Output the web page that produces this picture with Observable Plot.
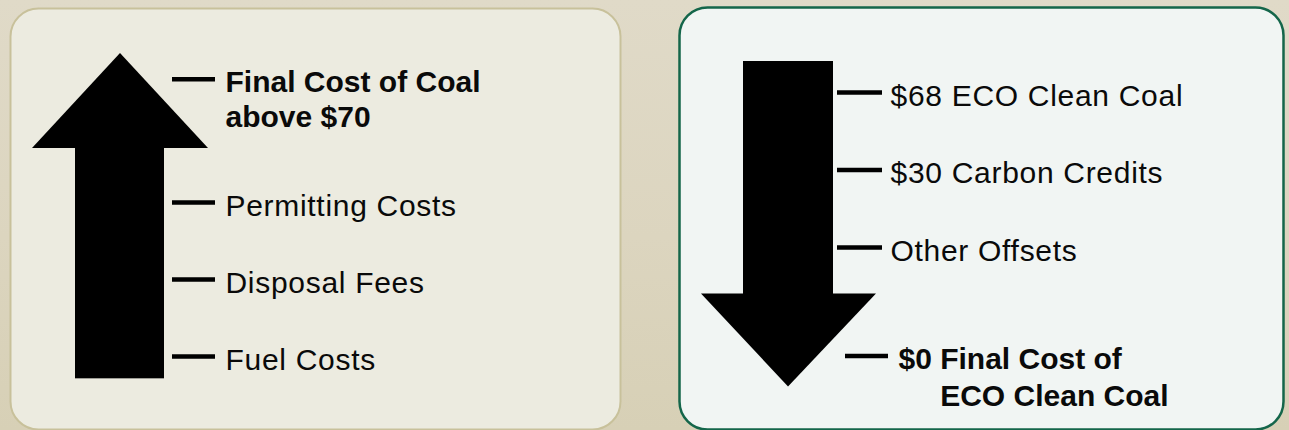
<!DOCTYPE html>
<html><head><meta charset="utf-8">
<script src="https://cdn.jsdelivr.net/npm/d3@7"></script>
<script src="https://cdn.jsdelivr.net/npm/@observablehq/plot@0.6"></script>
<style>
html,body{margin:0;padding:0;}
body{width:1289px;height:430px;overflow:hidden;background:linear-gradient(to bottom,#e0dac8 0%,#dcd5bf 55%,#d7d0b6 100%);}
#wrap{display:flex;}
#wrap svg{display:block;}
</style></head><body><div id="wrap"></div>
<script>
// Left panel: conventional coal cost build-up (bottom to top)
const leftLabels = ["Fuel Costs", "Disposal Fees", "Permitting Costs", "Final Cost of Coal\nabove $70"];
const leftLevels = [0, 1, 2, 3.6];
// Right panel: ECO Clean Coal cost offsets (top to bottom)
const rightLabels = ["$68 ECO Clean Coal", "$30 Carbon Credits", "Other Offsets", "$0 Final Cost of\n\u00a0\u00a0\u00a0\u00a0\u00a0ECO Clean Coal"];
const rightLevels = [0, 1, 2, 3.4];

const FONT = "'Liberation Sans', Arial, sans-serif";
const toRows = (labels, levels) => labels.map((label, i) => ({label, level: levels[i], final: i === labels.length - 1}));
const leftData = toRows(leftLabels, leftLevels);
const rightData = toRows(rightLabels, rightLevels);

const left = Plot.plot({
  width: 644, height: 430, margin: 0,
  style: {background: "transparent", fontFamily: FONT, overflow: "visible"},
  x: {domain: [0, 644], axis: null},
  y: {domain: [0, 1], range: [356, 279], axis: null},
  marks: [
    Plot.frame({fill: "#ecebe0", stroke: "#c8c19b", strokeWidth: 2, rx: 28, ry: 28, insetLeft: 10, insetTop: 8, insetRight: 24, insetBottom: 1}),
    // upward arrow
    Plot.rect([{a: 75, b: 164, lo: -0.29, hi: 2.72}], {x1: "a", x2: "b", y1: "lo", y2: "hi", fill: "#000"}),
    Plot.areaY([{x: 32, y: 2.7}, {x: 120, y: 3.935}, {x: 208, y: 2.7}], {x: "x", y1: 2.7, y2: "y", fill: "#000", curve: "linear"}),
    // ticks
    Plot.ruleY(leftData, {y: "level", x1: 172, x2: 215, stroke: "#000", strokeWidth: 4.5}),
    Plot.text(leftData, {filter: d => !d.final, x: 225, y: "level", text: "label", textAnchor: "start", lineAnchor: "top", dy: -7.8, fontSize: 30, fill: "#0a0a0a"}),
    Plot.text(leftData, {filter: d => d.final, x: 225, y: "level", text: "label", textAnchor: "start", lineAnchor: "top", lineHeight: 1.167, dy: -11.8, fontSize: 30, fontWeight: "bold", fill: "#0a0a0a"})
  ]
});

const right = Plot.plot({
  width: 645, height: 430, margin: 0,
  style: {background: "transparent", fontFamily: FONT, overflow: "visible"},
  x: {domain: [644, 1289], axis: null},
  y: {domain: [0, 1], range: [92, 169.5], axis: null},
  marks: [
    Plot.frame({fill: "#f1f5f3", stroke: "#14664a", strokeWidth: 2.5, rx: 28, ry: 28, insetLeft: 35, insetTop: 7, insetRight: 6, insetBottom: 1}),
    // downward arrow
    Plot.rect([{a: 743, b: 833, lo: -0.4, hi: 2.62}], {x1: "a", x2: "b", y1: "lo", y2: "hi", fill: "#000"}),
    Plot.areaY([{x: 701, y: 2.6}, {x: 788, y: 3.8}, {x: 876, y: 2.6}], {x: "x", y1: 2.6, y2: "y", fill: "#000", curve: "linear"}),
    // ticks
    Plot.ruleY(rightData, {y: "level", x1: d => d.final ? 845 : 837, x2: d => d.final ? 888 : 882, stroke: "#000", strokeWidth: 4.5}),
    Plot.text(rightData, {filter: d => !d.final, x: 890, y: "level", text: "label", textAnchor: "start", lineAnchor: "top", dy: -8.3, fontSize: 30, fill: "#0a0a0a"}),
    Plot.text(rightData, {filter: d => d.final, x: 898, y: "level", text: "label", textAnchor: "start", lineAnchor: "top", lineHeight: 1.25, dy: -13.8, fontSize: 30, fontWeight: "bold", fill: "#0a0a0a"})
  ]
});

// slightly wider tracking on the light labels, to match the original geometric face
for (const svg of [left, right]) {
  svg.querySelectorAll('g[aria-label="text"]:not([font-weight]) text').forEach(t => t.setAttribute("letter-spacing", "0.7"));
}

const wrap = document.getElementById("wrap");
wrap.appendChild(left);
wrap.appendChild(right);
</script>
</body></html>
